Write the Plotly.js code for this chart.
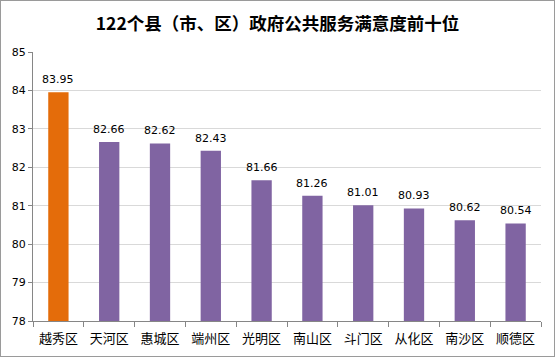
<!DOCTYPE html>
<html><head><meta charset="utf-8">
<script src="https://cdn.plot.ly/plotly-3.0.1.min.js"></script>
<style>html,body{margin:0;padding:0;background:#fff}#c{width:553px;height:355px;border:1px solid #9a9a9a}</style>
</head><body><div id="c"></div>
<script>
const categories = ["越秀区","天河区","惠城区","端州区","光明区","南山区","斗门区","从化区","南沙区","顺德区"];
const values = [83.95,82.66,82.62,82.43,81.66,81.26,81.01,80.93,80.62,80.54];
const barColors = ["#E46C0A","#8064A2","#8064A2","#8064A2","#8064A2","#8064A2","#8064A2","#8064A2","#8064A2","#8064A2"];
const yTicks = [78,79,80,81,82,83,84,85];
const titleText = "122个县（市、区）政府公共服务满意度前十位";
const numFont = "DejaVu Sans, Noto Sans CJK SC, sans-serif";
const cjkFont = "Noto Sans CJK SC, sans-serif";
const labels = categories.map((c, i) => ({
  x: c, y: values[i], xref: "x", yref: "y",
  text: values[i].toFixed(2), showarrow: false,
  yanchor: "bottom", yshift: 4,
  font: {family: numFont, size: 11, color: "#000"}
}));
Plotly.newPlot("c", [{
  type: "bar",
  x: categories,
  y: values,
  marker: {color: barColors},
  hoverinfo: "none"
}], {
  width: 553, height: 355,
  margin: {l: 32, r: 13, t: 51, b: 35},
  paper_bgcolor: "#fff", plot_bgcolor: "#fff",
  bargap: 0.6,
  showlegend: false,
  annotations: labels,
  title: {text: "<b>" + titleText + "</b>", font: {family: cjkFont, size: 17.5, color: "#000"}, x: 0.5, xanchor: "center", y: 0.935, yanchor: "middle"},
  xaxis: {
    type: "category",
    showline: true, linecolor: "#868686", linewidth: 1,
    ticks: "outside", ticklen: 5, tickcolor: "#868686",
    tickson: "boundaries",
    ticklabelstandoff: 5,
    tickfont: {family: cjkFont, size: 13, color: "#000"},
    showgrid: false, fixedrange: true
  },
  yaxis: {
    range: [78, 85],
    tickvals: yTicks,
    showline: true, linecolor: "#868686", linewidth: 1,
    ticks: "outside", ticklen: 4, tickcolor: "#868686",
    showgrid: true, gridcolor: "#d9d9d9", gridwidth: 1,
    tickfont: {family: numFont, size: 11, color: "#000"},
    zeroline: false, fixedrange: true
  }
}, {displayModeBar: false, staticPlot: true});
</script></body></html>
